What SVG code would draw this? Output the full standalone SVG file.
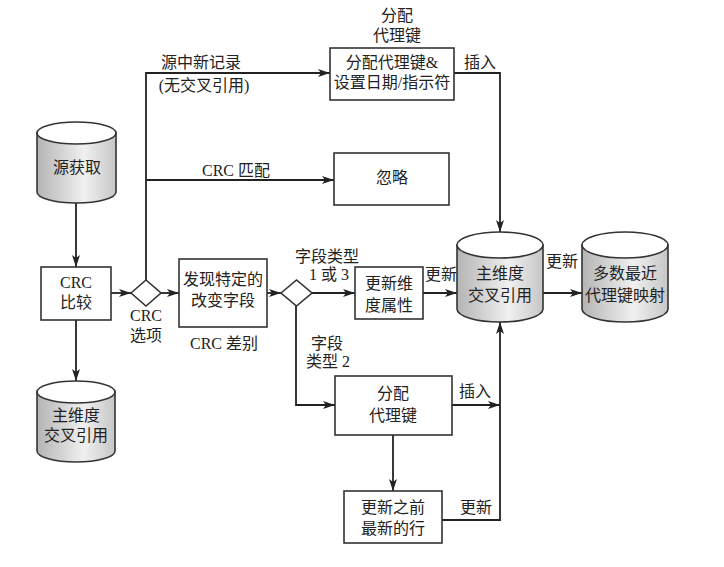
<svg xmlns="http://www.w3.org/2000/svg" width="724" height="567" viewBox="0 0 724 567">
<style>
text{font-family:"Liberation Serif","Noto Sans CJK SC",serif;font-size:16px;fill:#222;text-anchor:middle}
.box{fill:#fff;stroke:#333;stroke-width:1.6}
.cyl{fill:url(#cg);stroke:#333;stroke-width:1.6}
.top{fill:#fff;stroke:#333;stroke-width:1.6}
.ln{fill:none;stroke:#222;stroke-width:1.8}
.arr{marker-end:url(#ah)}
</style>
<defs>
<linearGradient id="cg" x1="0" y1="0" x2="1" y2="0">
<stop offset="0" stop-color="#b4b4b4"/>
<stop offset="0.6" stop-color="#f0f0f0"/>
<stop offset="1" stop-color="#c6c6c6"/>
</linearGradient>
<marker id="ah" viewBox="0 0 12 8" refX="12" refY="4" markerWidth="12" markerHeight="8" markerUnits="userSpaceOnUse" orient="auto">
<path d="M0,0 L12,4 L0,8 L3,4 Z" fill="#222"/>
</marker>
</defs>

<g id="connectors">
<path class="ln arr" d="M76,203 V267"/>
<path class="ln arr" d="M76,320 V381"/>
<path class="ln arr" d="M111,293 H131"/>
<path class="ln arr" d="M146,280 V73 H330"/>
<path class="ln arr" d="M146,180 H334"/>
<path class="ln arr" d="M161,293 H179"/>
<path class="ln arr" d="M267,293 H281"/>
<path class="ln arr" d="M312,293 H355"/>
<path class="ln arr" d="M423,293 H457"/>
<path class="ln arr" d="M454,73 H500 V232"/>
<path class="ln arr" d="M543,293 H582"/>
<path class="ln arr" d="M296,306 V405 H335"/>
<path class="ln arr" d="M452,405 H500"/>
<path class="ln arr" d="M442,520 H500 V322"/>
<path class="ln arr" d="M393,435 V491"/>
<text x="201" y="68">源中新记录</text>
<text x="204" y="91">(无交叉引用)</text>
<text x="236" y="176">CRC 匹配</text>
<text x="480" y="68">插入</text>
<text x="327" y="262">字段类型</text>
<text x="329" y="280">1 或 3</text>
<text x="441" y="280">更新</text>
<text x="562" y="267">更新</text>
<text x="327" y="349">字段</text>
<text x="328" y="367">类型 2</text>
<text x="475" y="397">插入</text>
<text x="476" y="513">更新</text>
</g>

<g id="source">
<path class="cyl" d="M37,133 V192 A39.5,11 0 0 0 116,192 V133 Z"/>
<ellipse class="top" cx="76.5" cy="133" rx="39.5" ry="11"/>
<text x="77" y="173">源获取</text>
</g>

<g id="crc-compare">
<rect class="box" x="41" y="267" width="70" height="53"/>
<text x="76" y="288">CRC</text>
<text x="76" y="308">比较</text>
</g>

<g id="xref-left">
<path class="cyl" d="M37,392 V451 A39,11 0 0 0 115,451 V392 Z"/>
<ellipse class="top" cx="76" cy="392" rx="39" ry="11"/>
<text x="76" y="421">主维度</text>
<text x="76" y="441">交叉引用</text>
</g>

<g id="crc-option">
<path class="box" d="M131,293 L146,280 L161,293 L146,306 Z"/>
<text x="146" y="321">CRC</text>
<text x="146" y="341">选项</text>
</g>

<g id="assign-key-top">
<text x="397" y="21">分配</text>
<text x="397" y="41">代理键</text>
<rect class="box" x="330" y="48" width="124" height="52"/>
<text x="392" y="68">分配代理键&amp;</text>
<text x="392" y="88">设置日期/指示符</text>
</g>

<g id="ignore">
<rect class="box" x="334" y="153" width="115" height="52"/>
<text x="392" y="183">忽略</text>
</g>

<g id="find-fields">
<rect class="box" x="179" y="259" width="88" height="68"/>
<text x="223" y="285">发现特定的</text>
<text x="223" y="306">改变字段</text>
<text x="224" y="349">CRC 差别</text>
</g>

<g id="field-type">
<path class="box" d="M281,293 L296.5,280 L312,293 L296.5,306 Z"/>
</g>

<g id="update-attr">
<rect class="box" x="355" y="267" width="68" height="52"/>
<text x="389" y="289">更新维</text>
<text x="389" y="311">度属性</text>
</g>

<g id="xref-main">
<path class="cyl" d="M457,245 V309 A43,13 0 0 0 543,309 V245 Z"/>
<ellipse class="top" cx="500" cy="245" rx="43" ry="13"/>
<text x="500" y="279">主维度</text>
<text x="500" y="301">交叉引用</text>
</g>

<g id="recent-map">
<path class="cyl" d="M582,245 V309 A43,13 0 0 0 668,309 V245 Z"/>
<ellipse class="top" cx="625" cy="245" rx="43" ry="13"/>
<text x="625" y="279">多数最近</text>
<text x="625" y="301">代理键映射</text>
</g>

<g id="assign-key">
<rect class="box" x="335" y="376" width="117" height="59"/>
<text x="393" y="399">分配</text>
<text x="393" y="421">代理键</text>
</g>

<g id="update-row">
<rect class="box" x="344" y="491" width="98" height="52"/>
<text x="393" y="513">更新之前</text>
<text x="393" y="534">最新的行</text>
</g>
</svg>
